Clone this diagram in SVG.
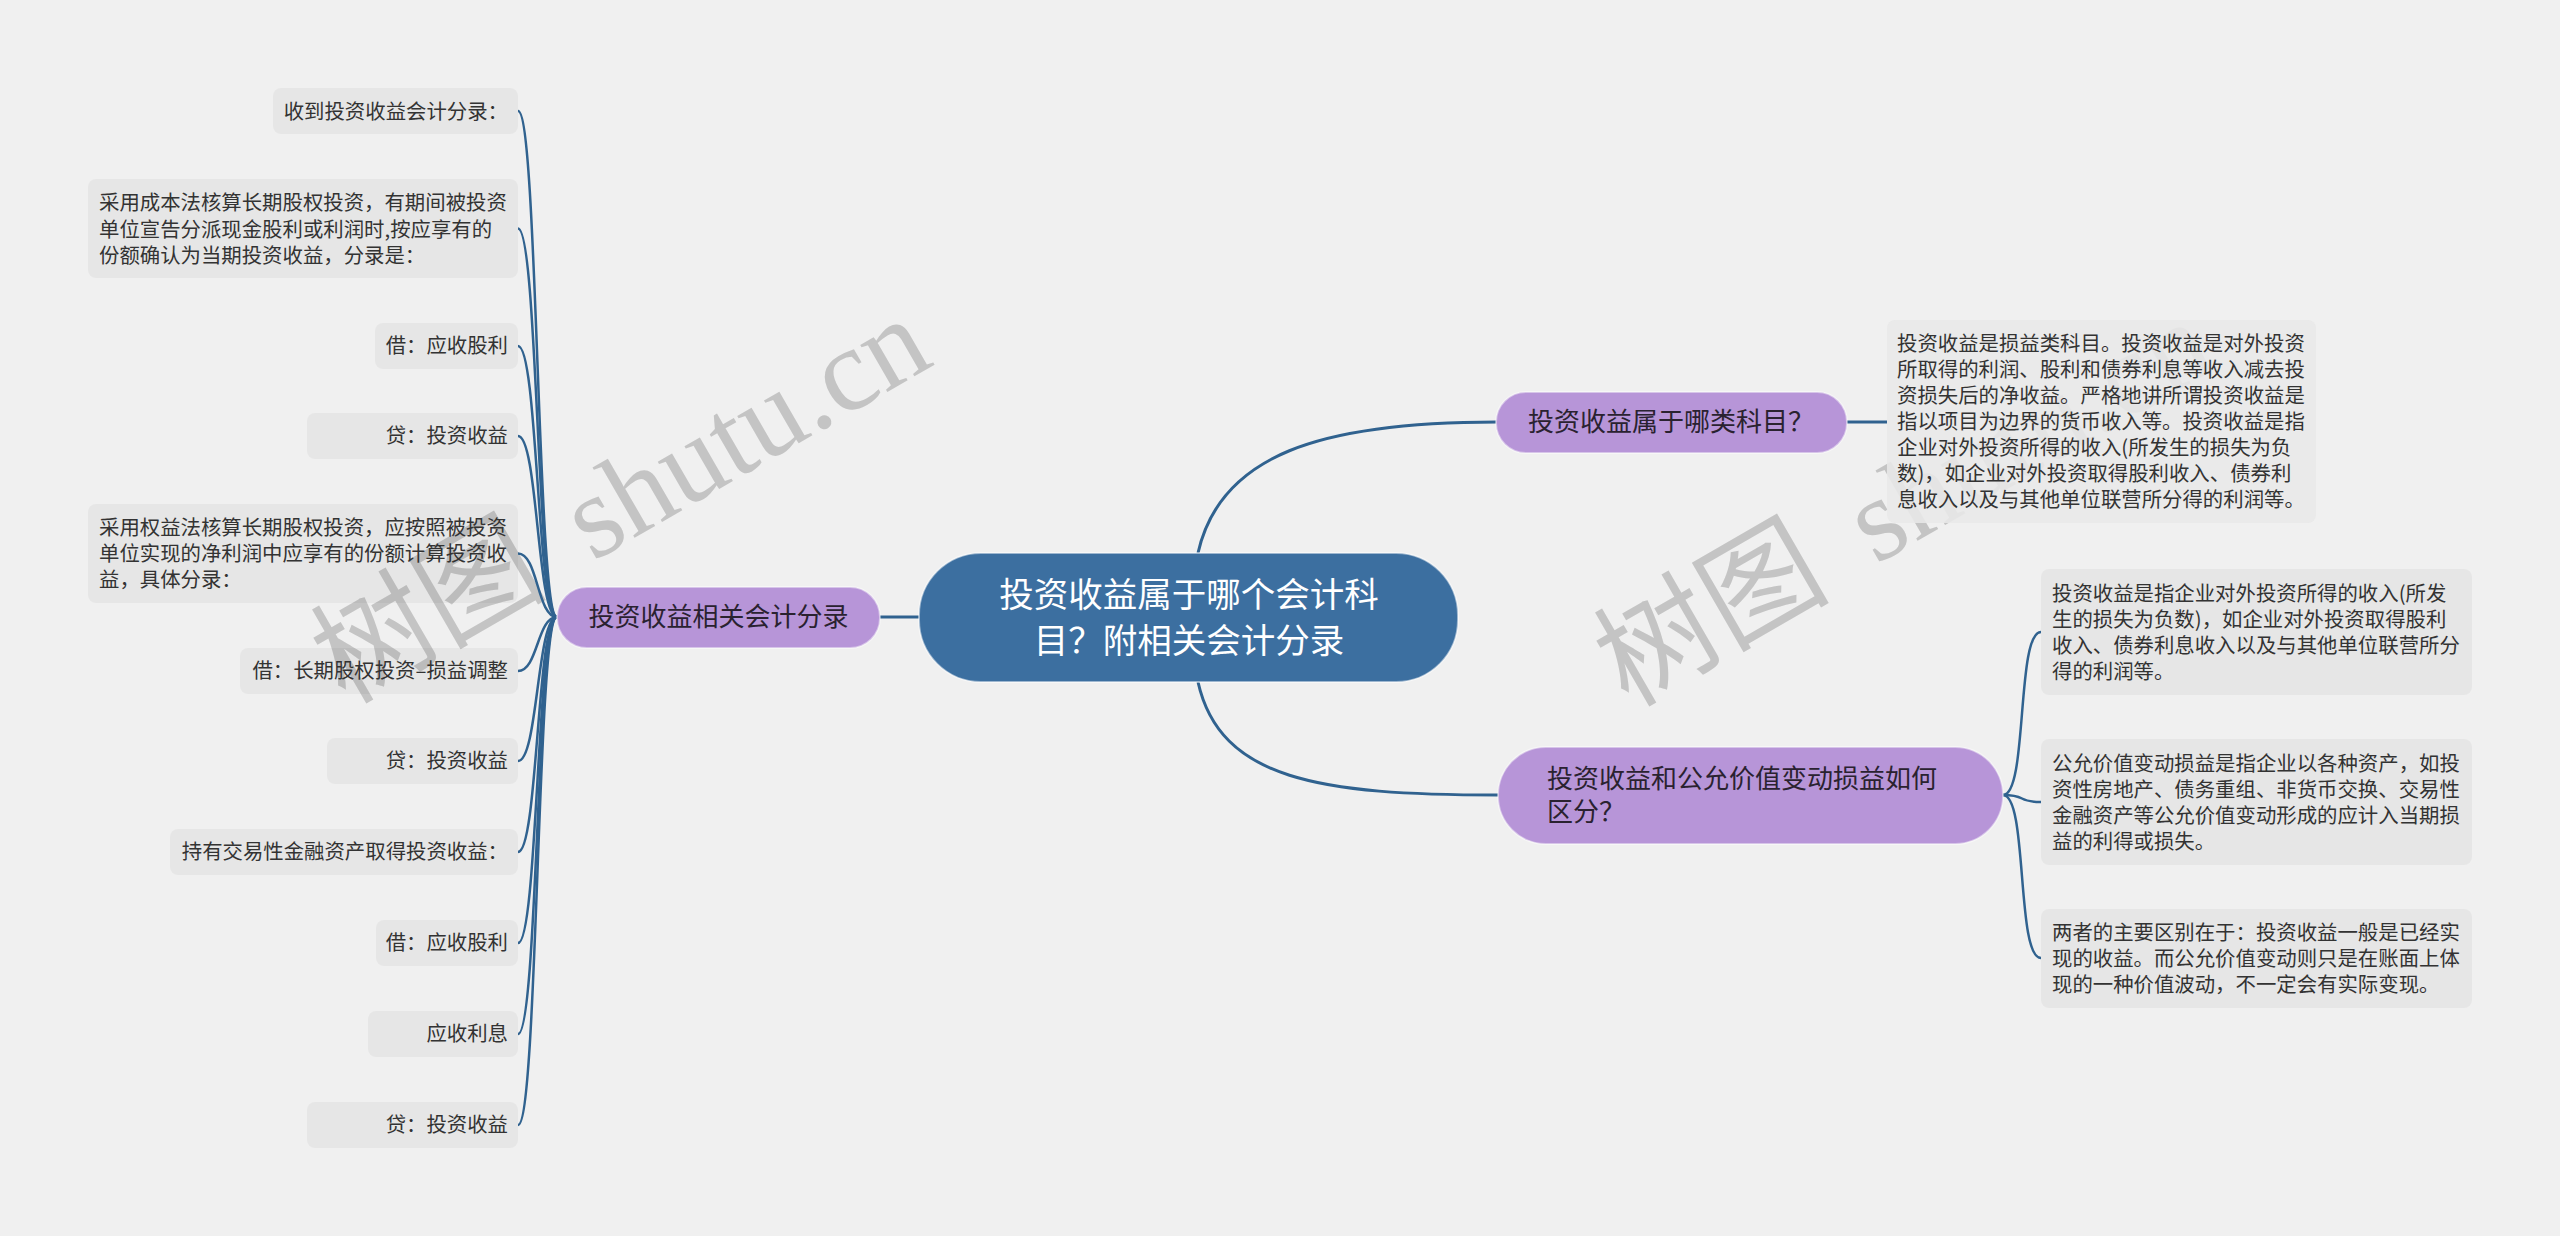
<svg xmlns="http://www.w3.org/2000/svg" width="2560" height="1236" viewBox="0 0 2560 1236">
<style>
.bg{fill:#f0f0f0}
.wm{font-size:118px;fill:#c4c4c4;font-family:"Liberation Serif","Noto Sans CJK SC",serif}
.leaf{fill:#000;fill-opacity:0.04}
.leafo{fill:#e8e8e8;fill-opacity:0.88}
.lt{font-family:"Noto Sans CJK SC","Noto Sans",sans-serif;font-size:20.4px;fill:#333}
.r{text-anchor:end}
.br{fill:#b795d8;stroke:#ffffff;stroke-opacity:0.45;stroke-width:2}
.bt{font-family:"Noto Sans CJK SC","Noto Sans",sans-serif;font-size:26px;fill:#2a2230}
.ctr{fill:#3c6fa0;stroke:#ffffff;stroke-opacity:0.5;stroke-width:2}
.ct{font-family:"Noto Sans CJK SC","Noto Sans",sans-serif;font-size:34.5px;fill:#ffffff;text-anchor:middle}
.c1{fill:none;stroke:#30628f;stroke-width:3}
.c2{fill:none;stroke:#30628f;stroke-width:2.5}
</style>
<rect class="bg" x="0" y="0" width="2560" height="1236"/>
<g id="watermarks">
<text class="wm" x="345" y="705" transform="rotate(-30 345 705)">树图<tspan dx="50">shutu.cn</tspan></text>
<text class="wm" x="1628" y="708" transform="rotate(-30 1628 708)">树图<tspan dx="50">shutu.cn</tspan></text>
</g>
<g id="connectors">
<path class="c1" d="M1198,553 C1220,455 1320,422 1497,422"/>
<path class="c1" d="M1198,682 C1220,780 1320,795 1498,795"/>
<path class="c1" d="M919,617 L880,617"/>
<path class="c1" d="M1847,422 L1887,422"/>
<path class="c2" d="M557,617 C537,617 538,111 518,111"/>
<path class="c2" d="M557,617 C537,617 538,228.5 518,228.5"/>
<path class="c2" d="M557,617 C537,617 538,346 518,346"/>
<path class="c2" d="M557,617 C537,617 538,436 518,436"/>
<path class="c2" d="M557,617 C537,617 538,553.5 518,553.5"/>
<path class="c2" d="M557,617 C537,617 538,671 518,671"/>
<path class="c2" d="M557,617 C537,617 538,761 518,761"/>
<path class="c2" d="M557,617 C537,617 538,852 518,852"/>
<path class="c2" d="M557,617 C537,617 538,943 518,943"/>
<path class="c2" d="M557,617 C537,617 538,1034 518,1034"/>
<path class="c2" d="M557,617 C537,617 538,1125 518,1125"/>
<path class="c2" d="M2003,795 C2028,795 2016,632 2041,632"/>
<path class="c2" d="M2003,795 C2028,795 2016,802 2041,802"/>
<path class="c2" d="M2003,795 C2028,795 2016,958 2041,958"/>
</g>
<g id="center">
<rect class="ctr" x="919" y="553" width="539" height="129" rx="62" ry="62"/>
<text class="ct" x="1189" y="607">投资收益属于哪个会计科</text>
<text class="ct" x="1189" y="653">目？附相关会计分录</text>
</g>
<g id="branch-left">
<rect class="br" x="557" y="587" width="323" height="61" rx="30" ry="30"/>
<text class="bt" x="718.5" y="626" text-anchor="middle">投资收益相关会计分录</text>
</g>
<g id="branch-right-top">
<rect class="br" x="1496" y="392" width="351" height="61" rx="30" ry="30"/>
<text class="bt" x="1528" y="431">投资收益属于哪类科目？</text>
</g>
<g id="branch-right-bottom">
<rect class="br" x="1498" y="747" width="505" height="97" rx="48" ry="48"/>
<text class="bt" x="1547" y="788">投资收益和公允价值变动损益如何</text>
<text class="bt" x="1547" y="821">区分？</text>
</g>
<g id="leaf-l1">
<rect class="leaf" x="273" y="88" width="245" height="46" rx="8"/>
<text class="lt r" x="508" y="119">收到投资收益会计分录：</text>
</g>
<g id="leaf-l2">
<rect class="leaf" x="88" y="179" width="430" height="99" rx="8"/>
<text class="lt" x="99" y="210">采用成本法核算长期股权投资，有期间被投资</text>
<text class="lt" x="99" y="236.5">单位宣告分派现金股利或利润时,按应享有的</text>
<text class="lt" x="99" y="263">份额确认为当期投资收益，分录是：</text>
</g>
<g id="leaf-l3">
<rect class="leaf" x="375" y="323" width="143" height="46" rx="8"/>
<text class="lt r" x="508" y="353">借：应收股利</text>
</g>
<g id="leaf-l4">
<rect class="leaf" x="307" y="413" width="211" height="46" rx="8"/>
<text class="lt r" x="508" y="443">贷：投资收益</text>
</g>
<g id="leaf-l5">
<rect class="leaf" x="88" y="504" width="430" height="99" rx="8"/>
<text class="lt" x="99" y="535">采用权益法核算长期股权投资，应按照被投资</text>
<text class="lt" x="99" y="561">单位实现的净利润中应享有的份额计算投资收</text>
<text class="lt" x="99" y="587">益，具体分录：</text>
</g>
<g id="leaf-l6">
<rect class="leaf" x="240" y="648" width="278" height="46" rx="8"/>
<text class="lt r" x="508" y="678">借：长期股权投资–损益调整</text>
</g>
<g id="leaf-l7">
<rect class="leaf" x="327" y="738" width="191" height="46" rx="8"/>
<text class="lt r" x="508" y="768">贷：投资收益</text>
</g>
<g id="leaf-l8">
<rect class="leaf" x="170" y="829" width="348" height="46" rx="8"/>
<text class="lt r" x="508" y="859">持有交易性金融资产取得投资收益：</text>
</g>
<g id="leaf-l9">
<rect class="leaf" x="376" y="920" width="142" height="46" rx="8"/>
<text class="lt r" x="508" y="950">借：应收股利</text>
</g>
<g id="leaf-l10">
<rect class="leaf" x="368" y="1011" width="150" height="46" rx="8"/>
<text class="lt r" x="508" y="1041">应收利息</text>
</g>
<g id="leaf-l11">
<rect class="leaf" x="307" y="1102" width="211" height="46" rx="8"/>
<text class="lt r" x="508" y="1132">贷：投资收益</text>
</g>
<g id="leaf-rt">
<rect class="leafo" x="1887" y="320" width="429" height="203" rx="8"/>
<text class="lt" x="1897" y="351">投资收益是损益类科目。投资收益是对外投资</text>
<text class="lt" x="1897" y="377">所取得的利润、股利和债券利息等收入减去投</text>
<text class="lt" x="1897" y="403">资损失后的净收益。严格地讲所谓投资收益是</text>
<text class="lt" x="1897" y="429">指以项目为边界的货币收入等。投资收益是指</text>
<text class="lt" x="1897" y="455">企业对外投资所得的收入(所发生的损失为负</text>
<text class="lt" x="1897" y="481">数)，如企业对外投资取得股利收入、债券利</text>
<text class="lt" x="1897" y="507">息收入以及与其他单位联营所分得的利润等。</text>
</g>
<g id="leaf-rb1">
<rect class="leaf" x="2041" y="569" width="431" height="126" rx="8"/>
<text class="lt" x="2052" y="601">投资收益是指企业对外投资所得的收入(所发</text>
<text class="lt" x="2052" y="627">生的损失为负数)，如企业对外投资取得股利</text>
<text class="lt" x="2052" y="653">收入、债券利息收入以及与其他单位联营所分</text>
<text class="lt" x="2052" y="679">得的利润等。</text>
</g>
<g id="leaf-rb2">
<rect class="leaf" x="2041" y="739" width="431" height="126" rx="8"/>
<text class="lt" x="2052" y="771">公允价值变动损益是指企业以各种资产，如投</text>
<text class="lt" x="2052" y="797">资性房地产、债务重组、非货币交换、交易性</text>
<text class="lt" x="2052" y="823">金融资产等公允价值变动形成的应计入当期损</text>
<text class="lt" x="2052" y="849">益的利得或损失。</text>
</g>
<g id="leaf-rb3">
<rect class="leaf" x="2041" y="909" width="431" height="99" rx="8"/>
<text class="lt" x="2052" y="940">两者的主要区别在于：投资收益一般是已经实</text>
<text class="lt" x="2052" y="966">现的收益。而公允价值变动则只是在账面上体</text>
<text class="lt" x="2052" y="992">现的一种价值波动，不一定会有实际变现。</text>
</g>
</svg>
